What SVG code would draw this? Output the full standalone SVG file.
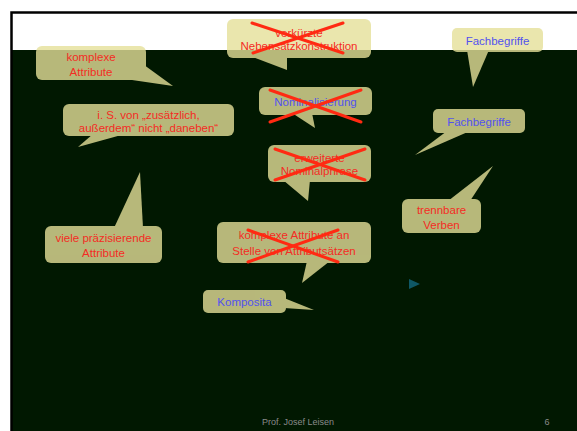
<svg xmlns="http://www.w3.org/2000/svg" width="577" height="431" viewBox="0 0 577 431">
<defs>
<style>
.bub{fill:#e5e099;opacity:0.8}
.t{font-family:"Liberation Sans",Arial,sans-serif;font-size:11.5px;text-anchor:middle}
.r{fill:#f42c24}
.b{fill:#5252ee}
.x{stroke:#ff2a12;stroke-width:3;stroke-linecap:round}
.f{font-family:"Liberation Sans",Arial,sans-serif;font-size:9px;fill:#8a8a8a}
</style>
</defs>
<rect width="577" height="431" fill="#ffffff"/>
<rect x="12" y="50" width="565" height="381" fill="#011801"/>
<path d="M11.5 431 V12.5 H577" fill="none" stroke="#000" stroke-width="2.5"/>
<polygon points="409,279 420,284 409,289" fill="#0f5866"/>

<g id="n1">
<g class="bub"><rect x="36" y="46" width="110" height="34" rx="6"/><polygon points="140,62 173,86 132,80"/></g>
<text class="t r" x="91" y="61">komplexe</text><text class="t r" x="91" y="76">Attribute</text>
</g>
<g id="n2">
<g class="bub"><rect x="63" y="104" width="171" height="32" rx="6"/><polygon points="93,134 78,147 125,134"/></g>
<text class="t r" x="148.5" y="119">i. S. von „zusätzlich,</text><text class="t r" x="148.5" y="132">außerdem“ nicht „daneben“</text>
</g>
<g id="n3">
<g class="bub"><rect x="45" y="226" width="117" height="37" rx="6"/><polygon points="114,228 140,172 143,228"/></g>
<text class="t r" x="103.5" y="242">viele präzisierende</text><text class="t r" x="103.5" y="257">Attribute</text>
</g>
<g id="n4">
<g class="bub"><rect x="227" y="19" width="144" height="39" rx="6"/><polygon points="250,56 287,70 287,56"/></g>
<text class="t r" x="299" y="37">verkürzte</text><text class="t r" x="299" y="50">Nebensatzkonstruktion</text>
<line class="x" x1="252" y1="23" x2="343" y2="53"/><line class="x" x1="253" y1="53" x2="343" y2="23"/>
</g>
<g id="n5">
<g class="bub"><rect x="259" y="87" width="113" height="28" rx="6"/><polygon points="292,113 315,128 312,113"/></g>
<text class="t b" x="315.5" y="106">Nominalisierung</text>
<line class="x" x1="270" y1="90" x2="361" y2="122"/><line class="x" x1="270" y1="122" x2="361" y2="90"/>
</g>
<g id="n6">
<g class="bub"><rect x="268" y="145" width="103" height="37" rx="6"/><polygon points="283,180 308,201 310,180"/></g>
<text class="t r" x="319.5" y="162">erweiterte</text><text class="t r" x="319.5" y="175">Nominalphrase</text>
<line class="x" x1="275" y1="149" x2="365" y2="180"/><line class="x" x1="275" y1="180" x2="365" y2="149"/>
</g>
<g id="n7">
<g class="bub"><rect x="217" y="222" width="154" height="41" rx="6"/><polygon points="307,261 302,283 330,261"/></g>
<text class="t r" x="294" y="239">komplexe Attribute an</text><text class="t r" x="294" y="255">Stelle von Attributsätzen</text>
<line class="x" x1="248" y1="230" x2="338" y2="262"/><line class="x" x1="248" y1="262" x2="338" y2="230"/>
</g>
<g id="n8">
<g class="bub"><rect x="203" y="290" width="83" height="23" rx="5"/><polygon points="284,298 314,310 284,308"/></g>
<text class="t b" x="244.5" y="306">Komposita</text>
</g>
<g id="n9">
<g class="bub"><rect x="452" y="28" width="91" height="24" rx="5"/><polygon points="467,50 473,87 489,50"/></g>
<text class="t b" x="497.5" y="45">Fachbegriffe</text>
</g>
<g id="n10">
<g class="bub"><rect x="433" y="109" width="92" height="24" rx="5"/><polygon points="447,131 415,155 470,131"/></g>
<text class="t b" x="479" y="126">Fachbegriffe</text>
</g>
<g id="n11">
<g class="bub"><rect x="402" y="199" width="79" height="34" rx="6"/><polygon points="448,201 493,166 470,201"/></g>
<text class="t r" x="441.5" y="214">trennbare</text><text class="t r" x="441.5" y="229">Verben</text>
</g>
<g id="connectors"></g>
<text class="f" x="298" y="425" text-anchor="middle">Prof. Josef Leisen</text>
<text class="f" x="547" y="425" text-anchor="middle">6</text>
</svg>
